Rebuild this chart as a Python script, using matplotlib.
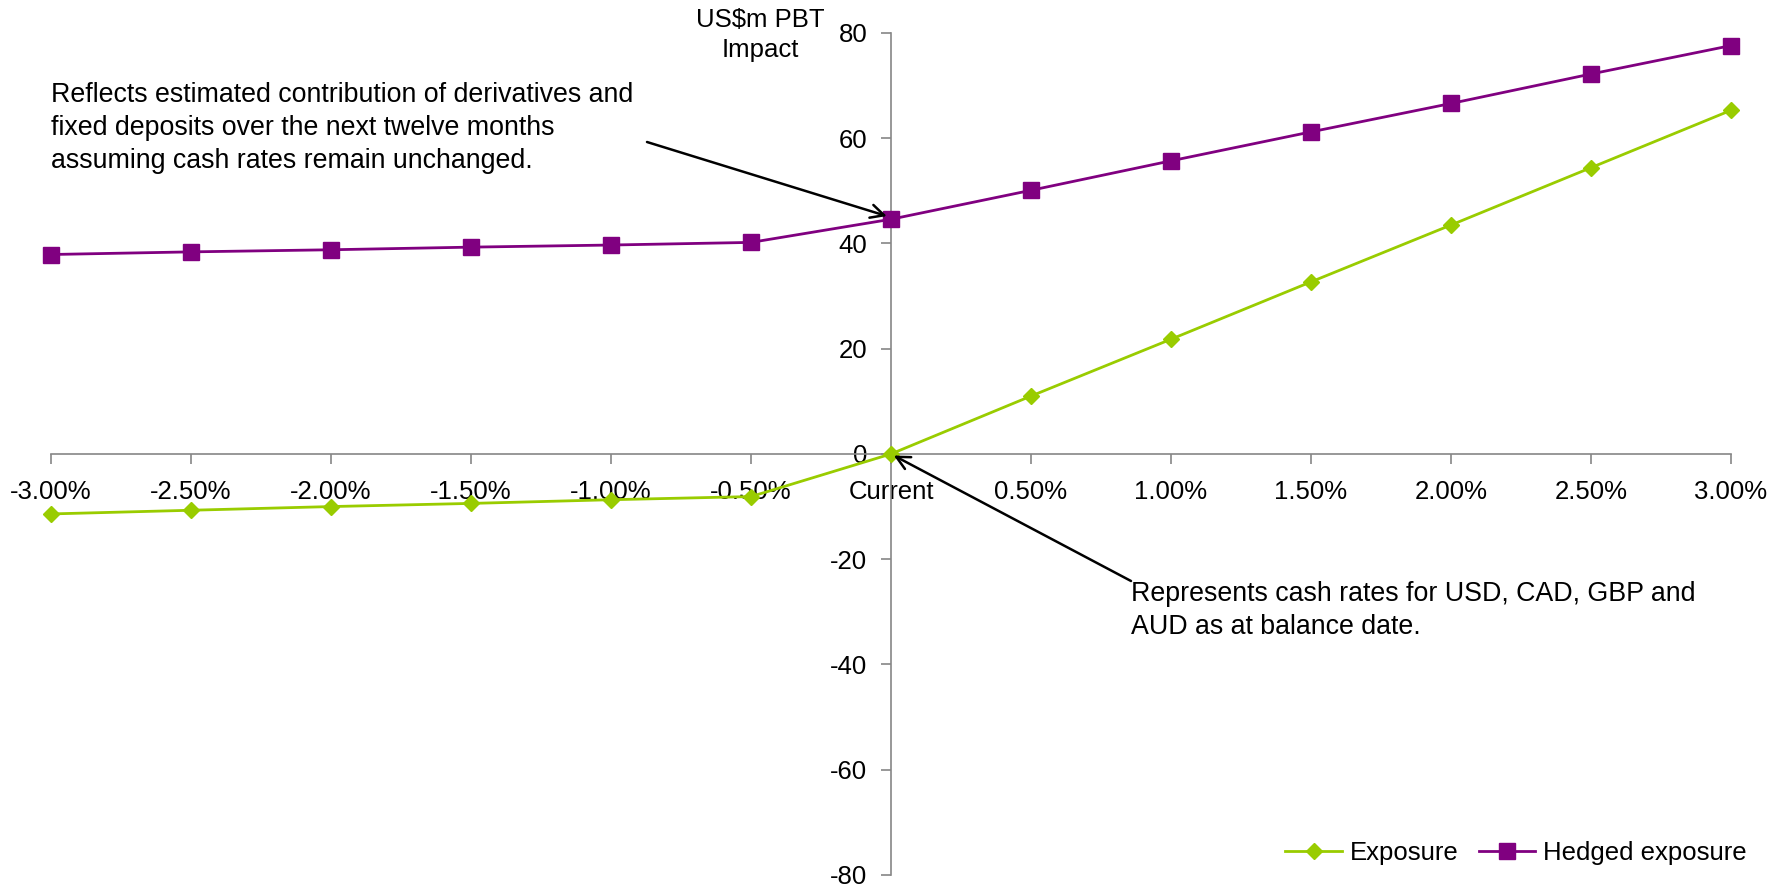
import matplotlib.pyplot as plt
import numpy as np

plt.rcParams['font.family'] = ['Liberation Sans', 'DejaVu Sans']

# rate shift scenarios vs PBT impact (US$m)
categories = ['-3.00%', '-2.50%', '-2.00%', '-1.50%', '-1.00%', '-0.50%', 'Current',
              '0.50%', '1.00%', '1.50%', '2.00%', '2.50%', '3.00%']
exposure = [-11.4, -10.7, -10.0, -9.4, -8.7, -8.1, 0.0,
            11.0, 21.8, 32.7, 43.5, 54.4, 65.3]
hedged = [37.9, 38.4, 38.8, 39.3, 39.7, 40.2, 44.6,
          50.1, 55.7, 61.2, 66.6, 72.2, 77.6]
y_ticks = [-80, -60, -40, -20, 0, 20, 40, 60, 80]

green = '#99cc00'
purple = '#800080'
axis_grey = '#868686'
fs = 18.5
note_fs = 19.3

fig = plt.figure(figsize=(17.79, 8.86), dpi=100)
ax = fig.add_axes([0.0287, 0.0125, 0.9443, 0.9503])

x = np.arange(len(categories))
ax.plot(x, exposure, color=green, lw=2, marker='D', ms=8.5, clip_on=False,
        zorder=3, label='Exposure')
ax.plot(x, hedged, color=purple, lw=2, marker='s', ms=11, clip_on=False,
        zorder=3, label='Hedged exposure')

ax.set_xlim(0, len(categories) - 1)
ax.set_ylim(-80, 80)

# axes cross at the "Current" category and at zero
cur = categories.index('Current')
ax.spines['left'].set_position(('data', cur))
ax.spines['bottom'].set_position(('data', 0))
ax.spines['right'].set_visible(False)
ax.spines['top'].set_visible(False)
for s in ['left', 'bottom']:
    ax.spines[s].set_color(axis_grey)
    ax.spines[s].set_linewidth(1.2)

ax.set_xticks(x)
ax.set_xticklabels(categories)
ax.set_yticks(y_ticks)
ax.set_yticklabels([str(v) for v in y_ticks])
ax.tick_params(axis='both', direction='out', length=7, width=1.2,
               color=axis_grey, labelsize=fs, labelcolor='black')
ax.tick_params(axis='x', pad=12)
ax.tick_params(axis='y', pad=10)

# axis title above the value axis
fig.text(760 / 1779, 1 - 35 / 886, 'US$m PBT\nImpact', ha='center', va='center',
         fontsize=fs, linespacing=1.3)

fig.text(51 / 1779, 1 - 82 / 886,
         'Reflects estimated contribution of derivatives and\n'
         'fixed deposits over the next twelve months\n'
         'assuming cash rates remain unchanged.',
         ha='left', va='top', fontsize=note_fs, linespacing=1.35)
ax.annotate('', xy=(cur - 0.03, hedged[cur] + 0.6), xycoords='data',
            xytext=(647 / 1779, 1 - 142 / 886), textcoords='figure fraction',
            arrowprops=dict(arrowstyle='->', color='black', lw=1.8,
                            mutation_scale=24, shrinkA=0, shrinkB=0))

fig.text(1131 / 1779, 1 - 581 / 886,
         'Represents cash rates for USD, CAD, GBP and\n'
         'AUD as at balance date.',
         ha='left', va='top', fontsize=note_fs, linespacing=1.35)
ax.annotate('', xy=(cur + 0.02, -0.3), xycoords='data',
            xytext=(1131 / 1779, 1 - 581 / 886), textcoords='figure fraction',
            arrowprops=dict(arrowstyle='->', color='black', lw=1.8,
                            mutation_scale=24, shrinkA=0, shrinkB=0))

fig.legend(loc='center right', bbox_to_anchor=(1757 / 1779, 1 - 853 / 886),
           ncol=2, frameon=False, fontsize=fs, handlelength=2.2,
           handletextpad=0.3, columnspacing=0.8, borderaxespad=0)

fig.savefig('out.png', dpi=100)
